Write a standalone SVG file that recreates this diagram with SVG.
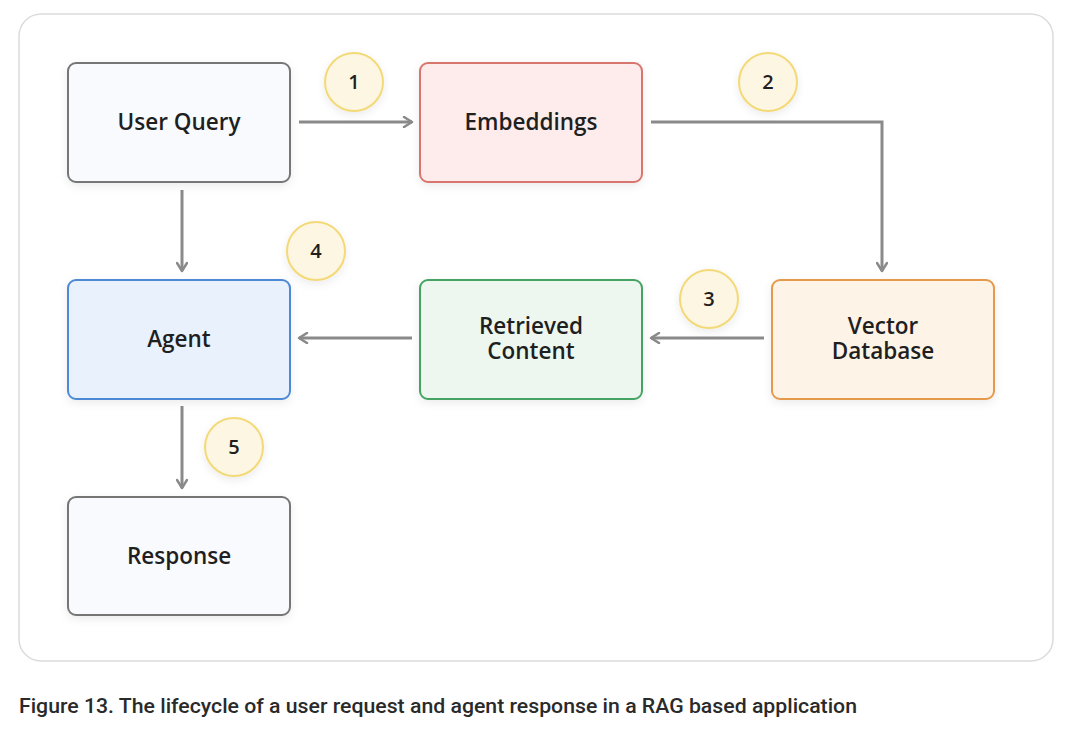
<svg xmlns="http://www.w3.org/2000/svg" width="1080" height="730" viewBox="0 0 1080 730">
<style>
.node{stroke-width:2}
.lbl{font-family:"Open Sans","Noto Sans",sans-serif;font-size:22.5px;font-weight:600;fill:#1f1f1f;text-anchor:middle}
.num{font-family:"Open Sans","Noto Sans",sans-serif;font-size:20px;font-weight:600;fill:#1f1f1f;text-anchor:middle}
.badge{fill:#fdf6e2;stroke:#f3d977;stroke-width:2}
.conn{fill:none;stroke:#8a8a8a;stroke-width:3;marker-end:url(#arr)}
.cap{font-family:"Roboto","Liberation Sans",sans-serif;font-size:21px;font-weight:500;fill:#2a2a2a}
</style>
<defs>
<marker id="arr" viewBox="0 0 12 12" refX="10" refY="6" markerWidth="12" markerHeight="12" markerUnits="userSpaceOnUse" orient="auto">
<path d="M2,1 L10,6 L2,11" fill="none" stroke="#8a8a8a" stroke-width="2.5" stroke-linecap="round" stroke-linejoin="round"/>
</marker>
<filter id="sh" x="-10%" y="-10%" width="120%" height="130%">
<feDropShadow dx="0" dy="3" stdDeviation="4" flood-color="#000" flood-opacity="0.08"/>
</filter>
</defs>
<rect width="1080" height="730" fill="#ffffff"/>
<rect x="19" y="14" width="1034" height="647" rx="22" fill="#ffffff" stroke="#dcdcdc" stroke-width="1.5"/>

<g id="connectors">
<path class="conn" d="M299,122 H412"/>
<path class="conn" d="M651,122 H882 V271"/>
<path class="conn" d="M764,338 H651"/>
<path class="conn" d="M412,338 H299"/>
<path class="conn" d="M182,190 V271"/>
<path class="conn" d="M182,406 V488"/>
</g>

<g id="user-query">
<rect class="node" x="68" y="63" width="222" height="119" rx="8" fill="#f8fafd" stroke="#767676" filter="url(#sh)"/>
<text class="lbl" x="179" y="130">User Query</text>
</g>
<g id="embeddings">
<rect class="node" x="420" y="63" width="222" height="119" rx="8" fill="#fdeceb" stroke="#d8756c" filter="url(#sh)"/>
<text class="lbl" x="531" y="130">Embeddings</text>
</g>
<g id="agent">
<rect class="node" x="68" y="280" width="222" height="119" rx="8" fill="#e9f1fd" stroke="#4d8ad6" filter="url(#sh)"/>
<text class="lbl" x="179" y="347">Agent</text>
</g>
<g id="retrieved-content">
<rect class="node" x="420" y="280" width="222" height="119" rx="8" fill="#edf7ef" stroke="#45a363" filter="url(#sh)"/>
<text class="lbl" x="531" y="334">Retrieved</text>
<text class="lbl" x="531" y="359">Content</text>
</g>
<g id="vector-database">
<rect class="node" x="772" y="280" width="222" height="119" rx="8" fill="#fdf3e6" stroke="#e59a4c" filter="url(#sh)"/>
<text class="lbl" x="883" y="334">Vector</text>
<text class="lbl" x="883" y="359">Database</text>
</g>
<g id="response">
<rect class="node" x="68" y="497" width="222" height="118" rx="8" fill="#f8fafd" stroke="#767676" filter="url(#sh)"/>
<text class="lbl" x="179" y="564">Response</text>
</g>

<g id="step-1"><circle class="badge" cx="354" cy="82" r="29" filter="url(#sh)"/><text class="num" x="354" y="89">1</text></g>
<g id="step-2"><circle class="badge" cx="768" cy="82" r="29" filter="url(#sh)"/><text class="num" x="768" y="89">2</text></g>
<g id="step-3"><circle class="badge" cx="709" cy="299" r="29" filter="url(#sh)"/><text class="num" x="709" y="306">3</text></g>
<g id="step-4"><circle class="badge" cx="316" cy="251" r="29" filter="url(#sh)"/><text class="num" x="316" y="258">4</text></g>
<g id="step-5"><circle class="badge" cx="234" cy="447" r="29" filter="url(#sh)"/><text class="num" x="234" y="454">5</text></g>

<text class="cap" x="19" y="713" textLength="838" lengthAdjust="spacingAndGlyphs">Figure 13. The lifecycle of a user request and agent response in a RAG based application</text>
</svg>
